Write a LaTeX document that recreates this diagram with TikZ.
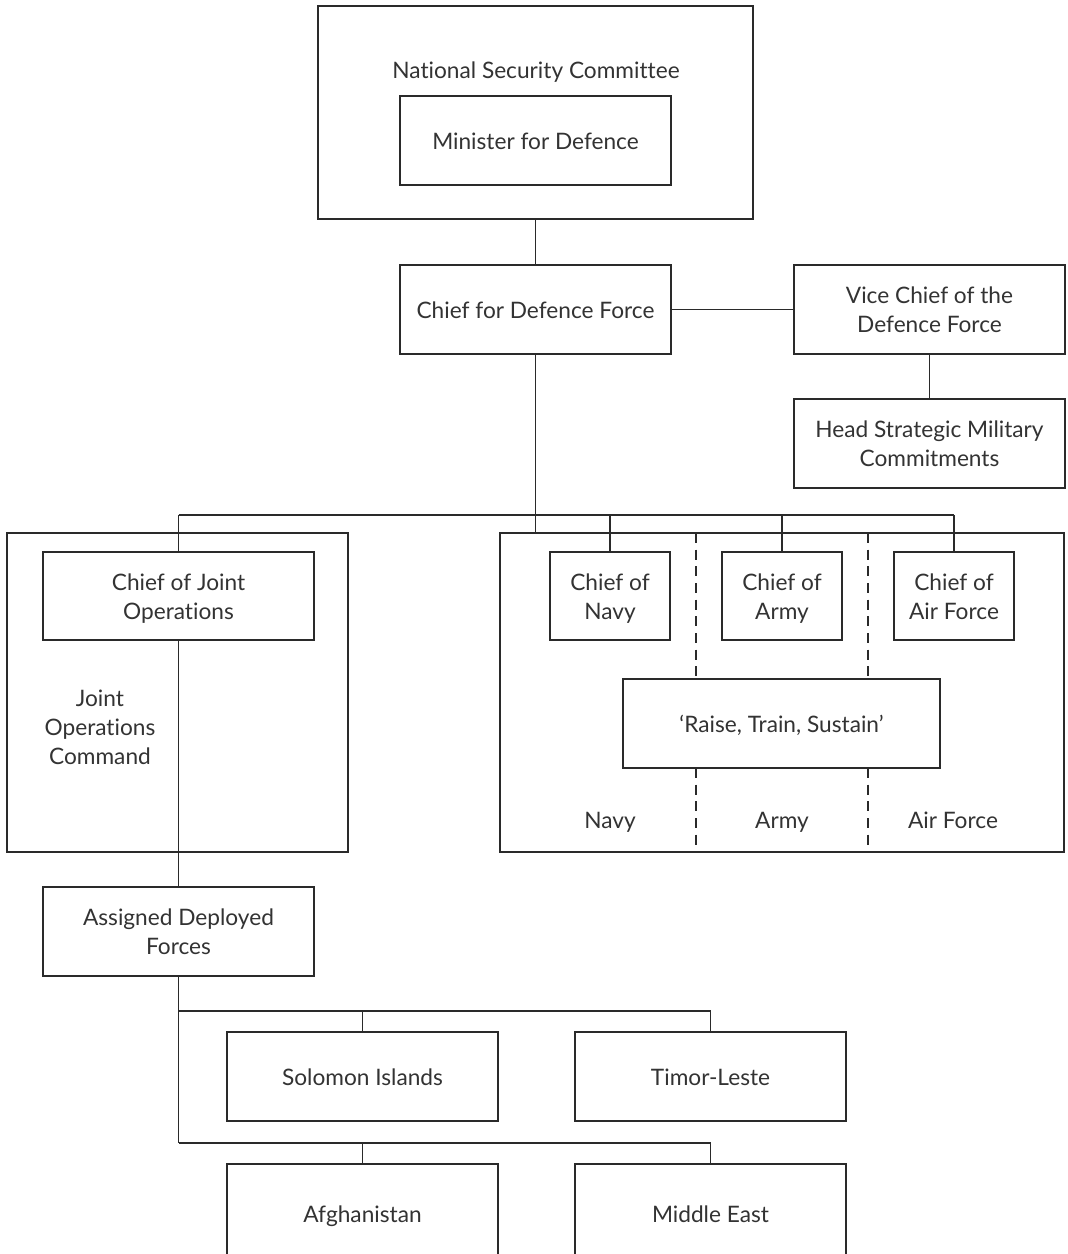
\documentclass[tikz,border=0pt]{standalone}
\usepackage{fontspec}
\setmainfont{Lato}[Ligatures=NoCommon]
\definecolor{ink}{HTML}{2A2A2A}
\definecolor{txt}{HTML}{333333}
\newcommand\mystrut{\rule[-3.8pt]{0pt}{21pt}}
\begin{document}
\begin{tikzpicture}[x=0.75pt,y=-0.75pt,
  every node/.style={font=\fontsize{17}{21.75}\selectfont, text=txt, align=center},
  bx/.style 2 args={draw=ink, line width=1pt, inner sep=0pt, outer sep=0pt,
    minimum width=#1*0.75pt, minimum height=#2*0.75pt},
  lbl/.style={inner sep=0pt},
  con/.style={draw=ink, line width=1pt},
  dsh/.style={draw=ink, line width=1pt, dash pattern=on 7.5pt off 5pt}]
\clip (0,0) rectangle (1068,1254);
\useasboundingbox (0,0) rectangle (1068,1254);
\fill[white] (0,0) rectangle (1068,1254);

% top
\node[bx={435}{213}] (nsc) at (535.5,112.5) {};
\node[lbl] (nsct) at (536,69.5) {\mystrut National Security Committee};
\node[bx={271}{89}] (min) at (535.5,140.5) {\mystrut Minister for Defence};
\node[bx={271}{89}] (cdf) at (535.5,309.5) {\mystrut Chief for Defence Force};
\node[bx={271}{89}] (vcdf) at (929.5,309.5) {\mystrut Vice Chief of the\\\mystrut Defence Force};
\node[bx={271}{89}] (hsmc) at (929.5,443.5) {\mystrut Head Strategic Military\\\mystrut Commitments};

% left group
\node[bx={341}{319}] (lbox) at (177.5,692.5) {};
\node[bx={271}{88}] (cjo) at (178.5,596) {\mystrut Chief of Joint\\\mystrut Operations};
\node[lbl] (joc) at (100,727) {\mystrut Joint\\\mystrut Operations\\\mystrut Command};

% right group
\node[bx={564}{319}] (rbox) at (782,692.5) {};
\node[bx={120}{88}] (navy) at (610,596) {\mystrut Chief of\\\mystrut Navy};
\node[bx={120}{88}] (army) at (782,596) {\mystrut Chief of\\\mystrut Army};
\node[bx={120}{88}] (airf) at (954,596) {\mystrut Chief of\\\mystrut Air Force};
\node[bx={317}{89}] (rts) at (781.5,723.5) {\mystrut ‘Raise, Train, Sustain’};
\node[lbl] (navyl) at (610,820) {\mystrut Navy};
\node[lbl] (armyl) at (782,820) {\mystrut Army};
\node[lbl] (airl) at (953,820) {\mystrut Air Force};

% deployed
\node[bx={271}{89}] (adf) at (178.5,931.5) {\mystrut Assigned Deployed\\\mystrut Forces};
\node[bx={271}{89}] (sol) at (362.5,1076.5) {\mystrut Solomon Islands};
\node[bx={271}{89}] (tim) at (710.5,1076.5) {\mystrut Timor-Leste};
\node[bx={271}{100}] (afg) at (362.5,1214) {\mystrut Afghanistan};
\node[bx={271}{100}] (me) at (710.5,1214) {\mystrut Middle East};

% coordinates
\coordinate (bus) at (0,515);
\coordinate (bus1) at (0,1011);
\coordinate (bus2) at (0,1143);
\coordinate (d1) at (696,0);
\coordinate (d2) at (868,0);

% connectors
\draw[con] (nsc.south) -- (cdf.north);
\draw[con] (cdf.east) -- (vcdf.west);
\draw[con] (vcdf.south) -- (hsmc.north);
\draw[con] (cdf.south) -- (cdf.south |- rbox.north);
\draw[con] (cjo.north |- bus) -- (airf.north |- bus);
\draw[con] (cjo.north |- bus) -- (cjo.north);
\draw[con] (navy.north |- bus) -- (navy.north);
\draw[con] (army.north |- bus) -- (army.north);
\draw[con] (airf.north |- bus) -- (airf.north);
\draw[con] (cjo.south) -- (adf.north);
\draw[con] (adf.south) -- (adf.south |- bus2);
\draw[con] (adf.south |- bus1) -- (tim.north |- bus1);
\draw[con] (sol.north |- bus1) -- (sol.north);
\draw[con] (tim.north |- bus1) -- (tim.north);
\draw[con] (adf.south |- bus2) -- (me.north |- bus2);
\draw[con] (afg.north |- bus2) -- (afg.north);
\draw[con] (me.north |- bus2) -- (me.north);

% dashed dividers
\draw[dsh] (d1 |- rbox.north) -- (d1 |- rts.north);
\draw[dsh] (d1 |- rts.south) -- (d1 |- rbox.south);
\draw[dsh] (d2 |- rbox.north) -- (d2 |- rts.north);
\draw[dsh] (d2 |- rts.south) -- (d2 |- rbox.south);
\end{tikzpicture}
\end{document}
